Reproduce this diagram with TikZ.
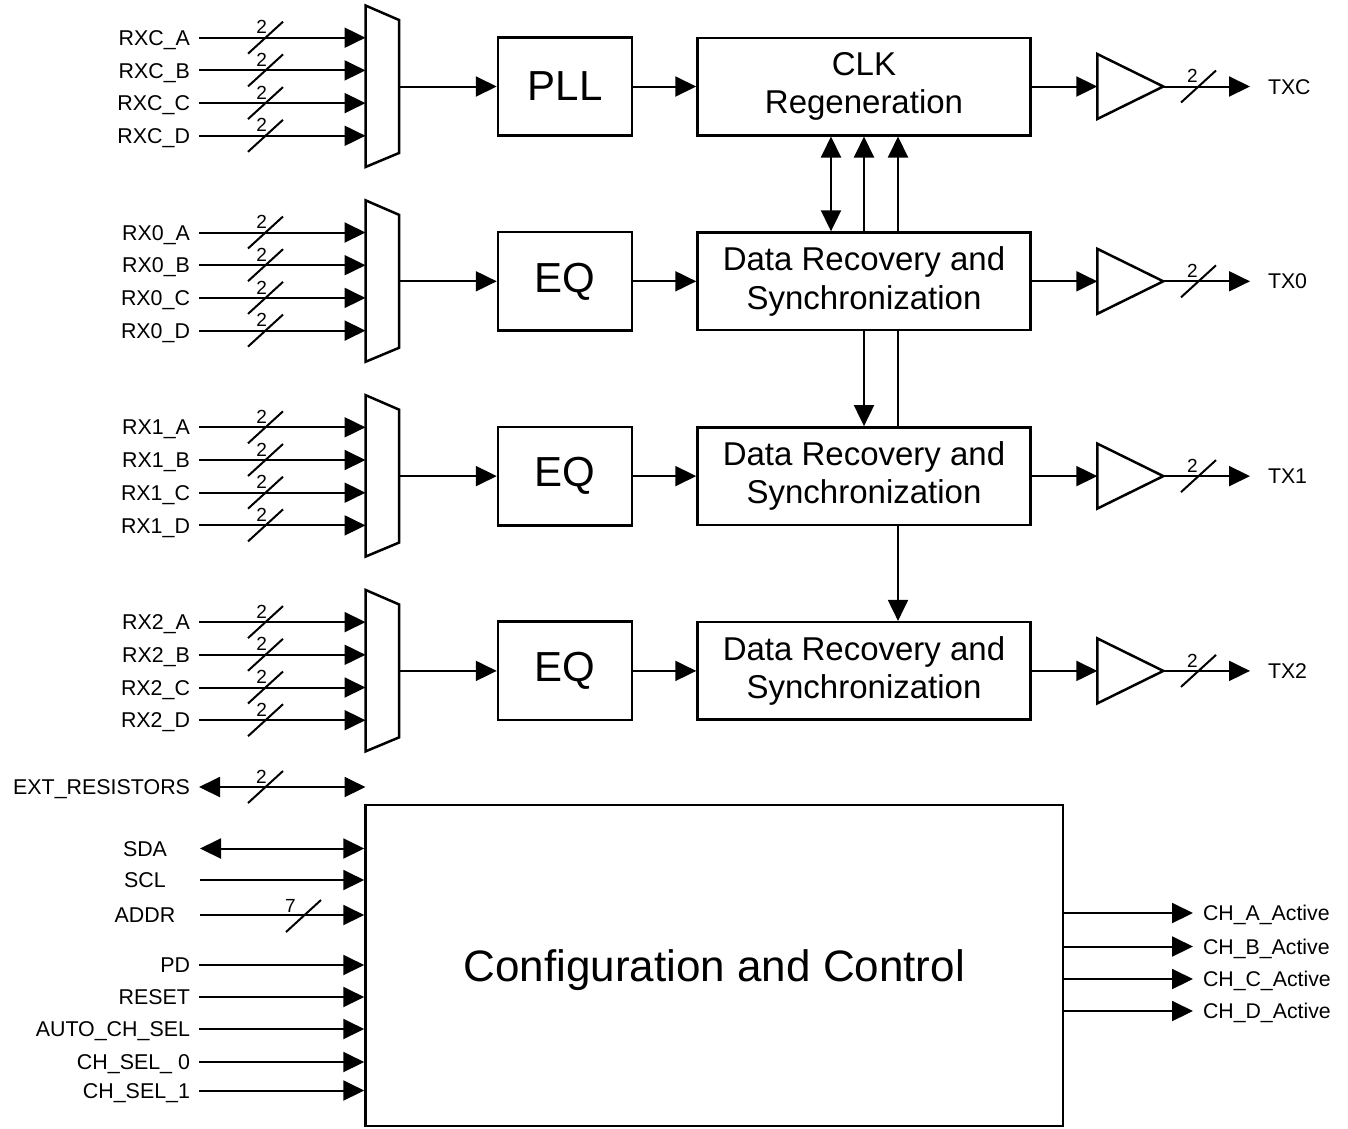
\documentclass[tikz,border=0pt]{standalone}
\usepackage{fontspec}
\setmainfont{Liberation Sans}
\usetikzlibrary{arrows.meta,calc}
\begin{document}
\begin{tikzpicture}[x=1pt,y=-1pt,
  line width=2pt,
  >={Triangle[length=21pt,width=20pt]},
  box/.style={draw, line width=2.5pt, rectangle, inner sep=0pt},
  blockS/.style={box, minimum width=134pt, minimum height=98.4pt, font=\fontsize{42}{48}\selectfont},
  blockM/.style={box, minimum width=333pt, minimum height=97.5pt, align=center, font=\fontsize{33}{38.5}\selectfont},
  lblL/.style={anchor=east, inner ysep=0pt, inner xsep=8pt, text height=15.3pt, text depth=0pt, font=\fontsize{21.4}{24}\selectfont},
  lblC/.style={anchor=center, inner sep=0pt, minimum width=108pt, text height=15.3pt, text depth=0pt, font=\fontsize{21.4}{24}\selectfont},
  lblR/.style={anchor=west, inner ysep=0pt, inner xsep=9pt, text height=15.3pt, text depth=0pt, font=\fontsize{21.3}{24}\selectfont},
  num/.style={inner sep=0pt, font=\fontsize{19}{21}\selectfont},
  slashmark/.style={line width=2pt},
  muxshape/.style={line width=2.5pt, line join=miter}
]
\useasboundingbox (0,0) rectangle (1348,1128);

\foreach \g/\off/\blk/\txt/\mtxt/\outl in {
  C/0/PLL/RXC/{CLK\\Regeneration}/TXC,
  0/194.8/EQ/RX0/{Data Recovery and\\Synchronization}/TX0,
  1/389.6/EQ/RX1/{Data Recovery and\\Synchronization}/TX1,
  2/584.4/EQ/RX2/{Data Recovery and\\Synchronization}/TX2} {
  % multiplexer
  \draw[muxshape] (365.5,\off+5.5) -- (399,\off+20) -- (399,\off+153) -- (365.5,\off+167) -- cycle;
  \coordinate (mx\g) at (399,\off+86.5);
  % inputs
  \foreach \i/\lt in {0/A,1/B,2/C,3/D} {
    \pgfmathsetmacro\yy{\off+37.7+32.7*\i}
    \node[lblL] (in\g\lt) at (199,\yy) {\txt\_\lt};
    \coordinate (mi\g\lt) at (365.5,\yy);
    \draw[->] (in\g\lt.east) -- (mi\g\lt);
    \draw[slashmark] (248,\yy+16) -- (283,\yy-16);
    \node[num] at (261.7,\yy-10.5) {2};
  }
  % blocks
  \node[blockS] (f\g) at (565,\off+86.5) {\blk};
  \node[blockM] (m\g) at (864,\off+86.5) {\mtxt};
  \draw[->] (mx\g) -- (f\g.west);
  \draw[->] (f\g.east) -- (m\g.west);
  % buffer
  \coordinate (bi\g) at (1097.3,\off+86.5);
  \coordinate (bo\g) at (1163.3,\off+86.5);
  \draw[muxshape] (1097.3,\off+54) -- (bo\g) -- (1097.3,\off+119) -- cycle;
  \draw[->] (m\g.east) -- (bi\g);
  \node[lblR, inner xsep=17pt] (o\g) at (1250,\off+86.5) {\outl};
  \draw[->] (bo\g) -- (o\g.west);
  \draw[slashmark] (1181,\off+102.5) -- (1216,\off+70.5);
  \node[num] at (1192.5,\off+76) {2};
}

% vertical connections
\draw[<->] ([xshift=-33pt]m0.north) -- ([xshift=-33pt]mC.south);
\draw[->] (m0.north) -- (mC.south);
\draw[->] ([xshift=34pt]m0.north) -- ([xshift=34pt]mC.south);
\draw[->] (m0.south) -- (m1.north);
\draw ([xshift=34pt]m0.south) -- ([xshift=34pt]m1.north);
\draw[->] ([xshift=34pt]m1.south) -- ([xshift=34pt]m2.north);

% configuration block
\node[box, minimum width=697.5pt, minimum height=321pt, text height=31pt, text depth=0pt, font=\fontsize{44}{50}\selectfont] (cfg) at (714.25,965.5) {Configuration and Control};

% EXT_RESISTORS
\node[lblL] (ext) at (199,787) {EXT\_RESISTORS};
\coordinate (extE) at (365.5,787);
\draw[<->] (ext.east) -- (extE);
\draw[slashmark] (248,803) -- (283,771);
\node[num] at (261.3,777) {2};

% serial interface
\node[lblC] (sda) at (145,848.5) {SDA};
\draw[<->] (sda.east) -- (cfg.west |- sda);
\node[lblC] (scl) at (145,880) {SCL};
\draw[->] (scl.east) -- (cfg.west |- scl);
\node[lblC] (addr) at (145,915) {ADDR};
\draw[->] (addr.east) -- (cfg.west |- addr);
\draw[slashmark] (286,932) -- (321,900);
\node[num] at (290.5,906) {7};

% control inputs
\foreach \nm/\tx/\yy in {pd/PD/965, rst/RESET/997, auto/AUTO\_CH\_SEL/1029, cs0/CH\_SEL\_ 0/1062, cs1/CH\_SEL\_1/1090.5} {
  \node[lblL] (\nm) at (199,\yy) {\tx};
  \draw[->] (\nm.east) -- (cfg.west |- \nm);
}

% outputs
\foreach \nm/\tx/\yy in {chA/CH\_A\_Active/913, chB/CH\_B\_Active/946.5, chC/CH\_C\_Active/979, chD/CH\_D\_Active/1011} {
  \node[lblR] (\nm) at (1193,\yy) {\tx};
  \draw[->] (cfg.east |- \nm) -- (\nm.west);
}
\end{tikzpicture}
\end{document}
